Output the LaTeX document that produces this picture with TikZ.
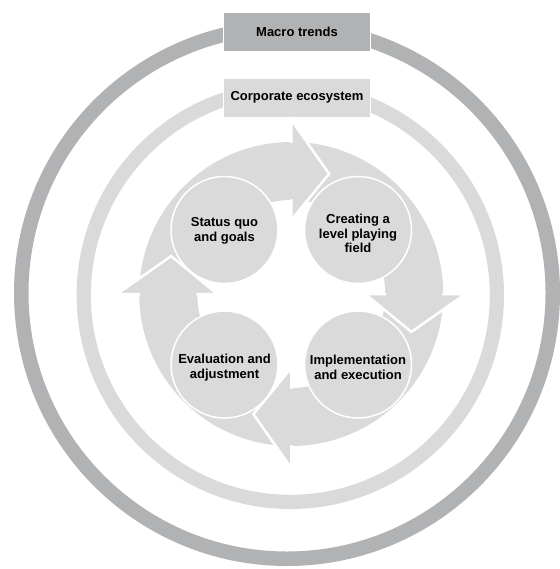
\documentclass[tikz,border=0pt]{standalone}
\usepackage{fontspec}
\setmainfont{Liberation Sans}
\usetikzlibrary{calc}
\definecolor{ringdark}{HTML}{B1B2B4}
\definecolor{lightg}{HTML}{DADADA}
\def\ro{152}
\def\ri{94}
\newcommand\arrowbody[2]{\fill[lightg] ($(C)+(#1:\ro)$) arc[start angle=#1, end angle=#2, radius=\ro] -- ($(C)+(#2:\ri)$) arc[start angle=#2, end angle=#1, radius=\ri] -- cycle;}
\newcommand\arrowhead[2]{\fill[lightg, draw=white, line width=2.5pt, line join=miter] ($(C)+(#1:74)$) -- ($(C)+(#2:126)$) -- ($(C)+(#1:174)$) -- cycle;}
\begin{document}
\begin{tikzpicture}[x=1pt,y=-1pt,
  lbl/.style={font=\bfseries\fontsize{13}{14.5}\selectfont, align=center, text=black, inner sep=0pt},
  boxdark/.style={fill=ringdark, draw=white, line width=1.5pt, minimum width=147.4pt, minimum height=39.7pt, inner sep=0pt, font=\bfseries\fontsize{13}{14.5}\selectfont},
  boxlight/.style={boxdark, fill=lightg},
  bubble/.style={circle, fill=lightg, draw=white, line width=1.5pt, minimum size=107pt, inner sep=0pt}]
\useasboundingbox (0,0) rectangle (559,569);
\fill[white] (0,0) rectangle (559,569);
% rings
\draw[ringdark, line width=14.5pt] (287,293) circle[radius=265.75];
\draw[lightg, line width=14.2pt] (290.3,295.3) circle[radius=206.6];
% boxes
\node[boxdark] (macro) at (297,31.85) {Macro trends};
\node[boxlight] (corp) at (297,97.8) {Corporate ecosystem};
% cycle arrows
\coordinate (C) at (291.25,294);
\arrowbody{181}{270}
\arrowbody{271}{360}
\arrowbody{361}{450}
\arrowbody{451}{540}
\arrowhead{270}{287.5}
\arrowhead{360}{377.5}
\arrowhead{450}{467.5}
\arrowhead{540}{557.5}
\begingroup
\def\ro{151}\def\ri{95}
\arrowbody{267}{271.2}
\arrowbody{357}{361.2}
\arrowbody{447}{451.2}
\arrowbody{537}{541.2}
\endgroup
% circles
\node[bubble] (c1) at (224.5,230) {};
\node[bubble] (c2) at (358,230) {};
\node[bubble] (c3) at (224.5,364.5) {};
\node[bubble] (c4) at (358,364.5) {};
\node[lbl] (t1) at (224.5,231) {Status quo\\and goals};
\node[lbl] (t2) at (358,233.7) {Creating a\\level playing\\field};
\node[lbl] (t3) at (224.5,367.5) {Evaluation and\\adjustment};
\node[lbl] (t4) at (358,367.5) {Implementation\\and execution};
\end{tikzpicture}
\end{document}
